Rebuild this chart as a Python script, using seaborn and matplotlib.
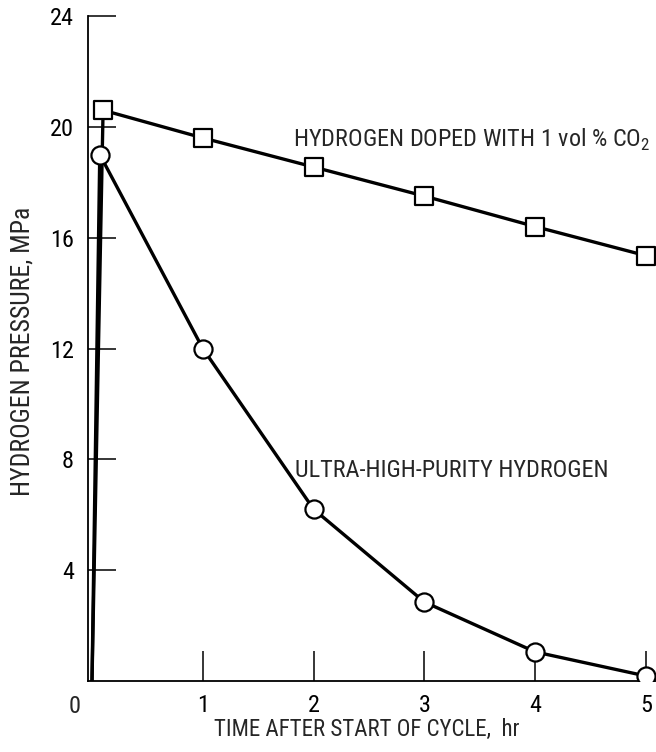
import matplotlib
matplotlib.use("Agg")
import matplotlib.pyplot as plt
from matplotlib import font_manager
import seaborn as sns
import pandas as pd

# ---- data ----
time_uhp = [0, 0.07, 1, 2, 3, 4, 5]
pressure_uhp = [0, 19.0, 12.0, 6.2, 2.85, 1.05, 0.18]
time_doped = [0, 0.1, 1, 2, 3, 4, 5]
pressure_doped = [0, 20.6, 19.6, 18.55, 17.5, 16.4, 15.35]
x_ticks = [1, 2, 3, 4, 5]
y_ticks = [4, 8, 12, 16, 20, 24]
label_uhp = "ULTRA-HIGH-PURITY HYDROGEN"
label_doped = "HYDROGEN DOPED WITH 1 vol % CO$_2$"
x_label = "TIME AFTER START OF CYCLE,  hr"
y_label = "HYDROGEN PRESSURE, MPa"

sns.set_style("white")
available = {f.name for f in font_manager.fontManager.ttflist}
fam = [f for f in ["Liberation Sans Narrow", "DejaVu Sans Condensed", "Roboto Condensed", "Liberation Sans", "DejaVu Sans"] if f in available]
plt.rcParams["font.family"] = fam
plt.rcParams["mathtext.fontset"] = "custom"
plt.rcParams["mathtext.rm"] = fam[0]

df_uhp = pd.DataFrame({"t": time_uhp, "p": pressure_uhp})
df_doped = pd.DataFrame({"t": time_doped, "p": pressure_doped})

fig = plt.figure(figsize=(6.56, 7.52), dpi=100)
ax = fig.add_axes([88 / 656, 71 / 752, 568 / 656, 665 / 752])

lw = 2.4
sns.lineplot(data=df_doped, x="t", y="p", ax=ax, color="black", lw=lw, estimator=None, sort=False, zorder=2)
sns.lineplot(data=df_uhp, x="t", y="p", ax=ax, color="black", lw=lw, estimator=None, sort=False, zorder=2)
sns.scatterplot(data=df_doped.iloc[1:], x="t", y="p", ax=ax, marker="s", s=150, facecolor="white",
                edgecolor="black", linewidth=1.6, zorder=3)
sns.scatterplot(data=df_uhp.iloc[1:], x="t", y="p", ax=ax, marker="o", s=170, facecolor="white",
                edgecolor="black", linewidth=1.6, zorder=3)

ax.set_xlim(-4 / 110.8, 564 / 110.8)
ax.set_ylim(0, 24)
ax.set_xticks(x_ticks)
ax.set_xticklabels([str(v) for v in x_ticks])
ax.set_yticks(y_ticks)
ax.set_yticklabels([str(v) for v in y_ticks])
ax.tick_params(axis="x", bottom=True, direction="in", length=21.5, width=1.1, pad=9, labelsize=17.5, colors="black")
ax.tick_params(axis="y", left=True, direction="in", length=20, width=1.1, pad=10, labelsize=17.5, colors="black")

for s in ["top", "right"]:
    ax.spines[s].set_visible(False)
for s in ["left", "bottom"]:
    ax.spines[s].set_color("black")
    ax.spines[s].set_linewidth(1.3)

ax.set_xlabel(x_label, fontsize=16.5)
ax.set_ylabel(y_label, fontsize=18.5)
ax.xaxis.set_label_coords(0.49, -0.056)
ax.yaxis.set_label_coords(-0.094, 0.495)

# origin label
ax.text(-13 / 568, -0.021, "0", transform=ax.transAxes, ha="center", va="top", fontsize=17.5)

ax.text(1.81, 19.28, label_doped, fontsize=17.5, ha="left", va="baseline")
ax.text(1.83, 7.36, label_uhp, fontsize=17.5, ha="left", va="baseline")

fig.savefig("out.png", dpi=100)
